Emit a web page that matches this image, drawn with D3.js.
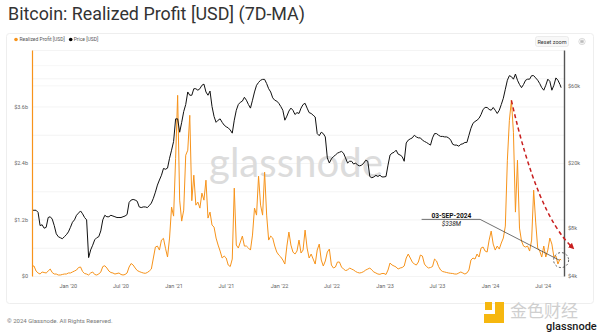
<!DOCTYPE html>
<html><head><meta charset="utf-8">
<script src="https://cdn.jsdelivr.net/npm/d3@7"></script>
<style>
body{margin:0;background:#fff;}
svg{display:block;font-family:Roboto,"Noto Sans",sans-serif;}
</style>
</head><body>
<svg id="c" width="600" height="332"></svg>
<script>
// ---------------- DATA ----------------
const startDate = "2019-08-30";   // weekly samples from here
const lastDate = "2024-09-03";    // final (partial-week) sample
// BTC price, thousands USD (weekly)
const priceK = [
10.2,10.2,10.2,9.9,8.2,8.3,7.9,8.0,9.2,9.3,9.0,8.2,7.3,7.0,6.9,6.8,7.0,7.2,
7.5,8.0,8.6,8.9,9.5,9.8,10.1,9.7,9.2,8.9,5.2,5.8,6.2,6.7,6.9,7.0,7.6,8.9,9.5,9.3,9.3,9.5,9.4,9.3,9.2,9.2,9.2,9.3,9.4,9.6,11.4,11.8,11.9,11.8,11.6,10.7,10.6,10.7,10.7,10.6,10.9,11.3,12.1,13.2,14.6,15.7,16.8,18.5,18.3,18.6,21.4,24.0,
27.2,37.5,37.5,31.0,35.7,41.6,46.0,55.0,52.5,52.5,57.6,57.6,56.4,57.6,60.5,61.5,55.0,52.5,55.7,44.7,38.8,35.7,36.8,37.5,35.7,34.3,33.5,33.0,32.0,30.6,36.8,42.4,46.0,47.5,48.3,51.0,48.9,46.0,43.7,48.9,55.0,60.5,63.0,65.0,65.8,65.8,62.0,57.6,55.0,50.6,48.9,48.3,46.8,
44.7,42.4,36.8,39.0,41.9,43.7,42.4,39.9,41.0,40.5,43.7,46.0,46.8,43.7,41.0,40.5,39.5,38.5,30.4,29.5,31.0,30.4,29.0,21.5,20.0,21.2,21.9,22.4,23.0,23.3,23.6,23.0,21.5,20.0,20.5,20.5,19.7,20.0,19.4,19.2,19.4,20.0,20.8,20.5,16.5,16.2,16.4,16.8,16.5,16.8,16.4,16.4,
16.5,19.4,22.4,23.0,23.3,24.0,22.7,22.4,21.9,20.5,26.6,27.7,28.2,28.6,29.7,29.0,28.6,28.6,27.7,27.2,26.8,26.3,25.8,28.6,30.4,30.4,29.7,29.2,29.2,29.0,29.0,28.6,27.7,26.1,25.8,25.8,25.4,26.1,26.3,26.8,26.8,29.7,32.8,35.2,36.1,36.8,37.8,39.9,42.9,44.1,44.1,42.9,
42.4,44.1,42.4,40.5,42.4,46.0,50.3,57.2,65.0,69.4,68.4,66.0,71.0,65.0,61.2,58.5,61.2,65.0,66.0,66.0,69.4,69.4,67.2,65.0,62.0,58.5,56.4,60.5,66.0,64.0,56.4,60.5,67.2,65.0,61.2,58.5
];
// Realized profit 7D-MA, millions USD (weekly)
const profitM = [
212,212,106,64,42,85,74,64,106,148,74,42,42,21,21,32,42,42,
64,64,85,106,127,180,191,95,53,42,21,64,85,32,21,42,85,201,218,170,106,74,64,42,53,64,32,21,32,64,191,265,233,170,117,95,78,64,57,74,106,148,382,615,636,551,763,799,587,403,806,1463,
1272,2500,3837,1611,1166,1399,2565,2671,3413,1600,2141,1505,1569,1442,1760,1611,2035,1230,1357,1081,1039,806,657,530,382,424,382,233,201,360,1866,657,594,721,848,636,636,594,551,869,1442,1293,2120,1505,1293,2205,1293,763,848,806,636,509,445,
403,339,254,636,933,657,509,466,530,763,488,551,975,594,382,466,360,254,551,678,339,212,318,509,572,233,170,191,297,297,191,148,117,127,170,148,127,95,74,64,74,95,127,148,170,127,85,64,42,36,53,53,
32,127,276,233,212,191,148,170,180,212,382,466,382,297,254,233,297,445,424,254,201,170,180,201,360,318,201,127,95,85,74,64,57,53,42,42,64,85,64,42,64,127,339,382,360,466,403,594,615,530,509,763,
954,678,551,636,572,700,806,1060,2459,3307,3731,3053,1357,2459,1018,742,636,615,636,530,763,1823,1145,594,530,403,636,403,551,806,678,403,424,254,360,338
];
const leftTicks = [0, 1200, 2400, 3600];
const leftTickLabels = ["$0", "$1.2b", "$2.4b", "$3.6b"];
const rightTicks = [4, 8, 20, 60];
const rightTickLabels = ["$4k", "$8k", "$20k", "$60k"];
const xTickDates = ["2020-01-01","2020-07-01","2021-01-01","2021-07-01","2022-01-01","2022-07-01","2023-01-01","2023-07-01","2024-01-01","2024-07-01"];
const xTickLabels = ["Jan '20","Jul '20","Jan '21","Jul '21","Jan '22","Jul '22","Jan '23","Jul '23","Jan '24","Jul '24"];
const annotText = "03-SEP-2024";
const annotValueText = "$338M";
const decayFrom = "2024-01-01"; // red arrow starts at the cycle peak after this date

// ---------------- SETUP ----------------
const parse = d3.utcParse("%Y-%m-%d");
const dates = d3.range(priceK.length - 1).map(i => d3.utcDay.offset(parse(startDate), 7 * i));
dates.push(parse(lastDate));
const priceData = priceK.map((v, i) => ({date: dates[i], v}));
const profitData = profitM.map((v, i) => ({date: dates[i], v}));

const ORANGE = "#f7931a";
const svg = d3.select("#c");
const L = 32, R = 564, T = 50, B = 276;

const x = d3.scaleUtc().domain([parse("2019-08-30"), parse("2024-09-13")]).range([L, R]);
const yL = d3.scaleLinear().domain([0, 4800]).range([B, T]);
const yR = d3.scaleLog().domain([4, 100]).range([B, T]);

// frame
svg.append("rect").attr("x", 6.5).attr("y", 33.5).attr("width", 587).attr("height", 270)
  .attr("rx", 3).attr("fill", "none").attr("stroke", "#eeeeee");

// title
const title = svg.append("text").attr("x", 8).attr("y", 19.5).attr("fill", "#333")
  .style("font-size", "17px").text("Bitcoin: Realized Profit [USD] (7D-MA)");
{ const w = title.node().getComputedTextLength(); title.style("font-size", (17 * 297 / w) + "px"); }

// legend
svg.append("circle").attr("cx", 16).attr("cy", 39.5).attr("r", 1.8).attr("fill", ORANGE);
svg.append("text").attr("x", 19.5).attr("y", 41.3).attr("fill", "#555").style("font-size", "5px").text("Realized Profit [USD]");
svg.append("circle").attr("cx", 70.7).attr("cy", 39.5).attr("r", 1.8).attr("fill", "#000");
svg.append("text").attr("x", 73.7).attr("y", 41.3).attr("fill", "#555").style("font-size", "5px").text("Price [USD]");

// reset zoom + menu icon
svg.append("rect").attr("x", 535.5).attr("y", 36.5).attr("width", 33).attr("height", 10).attr("rx", 2)
  .attr("fill", "#f8f8f8").attr("stroke", "#e2e2e2").attr("stroke-width", 0.6);
svg.append("text").attr("x", 552).attr("y", 43.5).attr("text-anchor", "middle").attr("fill", "#333")
  .style("font-size", "5.5px").text("Reset zoom");
svg.append("circle").attr("cx", 582).attr("cy", 41.5).attr("r", 3.2).attr("fill", "none").attr("stroke", "#bbb").attr("stroke-width", 0.5);
[-1.2, 0, 1.2].forEach(d => svg.append("line").attr("x1", 580.3).attr("x2", 583.7)
  .attr("y1", 41.5 + d).attr("y2", 41.5 + d).attr("stroke", "#777").attr("stroke-width", 0.5));

// gridlines
svg.append("g").selectAll("line").data(d3.range(0, 4801, 600)).join("line")
  .attr("x1", L).attr("x2", R).attr("y1", d => yL(d) + 0.5).attr("y2", d => yL(d) + 0.5)
  .attr("stroke", "#efefef").attr("stroke-width", 0.7);
svg.append("g").selectAll("line").data([60, 80]).join("line")
  .attr("x1", L).attr("x2", R).attr("y1", d => yR(d)).attr("y2", d => yR(d))
  .attr("stroke", "#f3f3f3").attr("stroke-width", 0.7);

// center watermark
const wm = svg.append("text").attr("x", 209).attr("y", 176.5).attr("fill", "#dcdcdc")
  .style("font-family", "Lato, 'Noto Sans', sans-serif").style("font-size", "40px").text("glassnode");
{ const w = wm.node().getComputedTextLength(); wm.style("font-size", (40 * 174 / w) + "px"); }

// lines
svg.append("path").datum(profitData).attr("fill", "none").attr("stroke", ORANGE)
  .attr("stroke-width", 1).attr("stroke-linejoin", "round")
  .attr("d", d3.line().x(d => x(d.date)).y(d => yL(d.v)));
svg.append("path").datum(priceData).attr("fill", "none").attr("stroke", "#111")
  .attr("stroke-width", 1).attr("stroke-linejoin", "round")
  .attr("d", d3.line().x(d => x(d.date)).y(d => yR(d.v)));

// axes
const axL = svg.append("g").attr("transform", `translate(${L},0)`)
  .call(d3.axisLeft(yL).tickValues(leftTicks).tickFormat((d, i) => leftTickLabels[i]).tickSize(0).tickSizeOuter(0).tickPadding(4));
axL.select(".domain").attr("stroke", ORANGE).attr("stroke-width", 1.2);
const axR = svg.append("g").attr("transform", `translate(${R},0)`)
  .call(d3.axisRight(yR).tickValues(rightTicks).tickFormat((d, i) => rightTickLabels[i]).tickSize(0).tickSizeOuter(0).tickPadding(4));
axR.select(".domain").attr("stroke", "#555").attr("stroke-width", 1.4);
const axB = svg.append("g").attr("transform", `translate(0,${B})`)
  .call(d3.axisBottom(x).tickValues(xTickDates.map(parse)).tickFormat((d, i) => xTickLabels[i]).tickSize(0).tickPadding(8));
axB.select(".domain").remove();
svg.selectAll(".tick text").attr("fill", "#666").style("font-size", "5.5px").style("font-family", "Roboto,'Noto Sans',sans-serif");

// annotation on last point
const last = profitData[profitData.length - 1];
const px = x(last.date), py = yL(last.v);
const lx0 = px - 139.5, lx1 = px - 81, ly = py - 40.7;
svg.append("path").attr("fill", "none").attr("stroke", "#333").attr("stroke-width", 0.7)
  .attr("d", `M${lx0},${ly}L${lx1},${ly}L${px - 2},${py}`);
svg.append("text").attr("x", (lx0 + lx1) / 2 + 0.5).attr("y", ly - 1.3).attr("text-anchor", "middle")
  .attr("fill", "#111").style("font-size", "6.6px").style("font-weight", "700").text(annotText);
svg.append("text").attr("x", (lx0 + lx1) / 2 + 0.5).attr("y", ly + 6.5).attr("text-anchor", "middle")
  .attr("fill", "#222").style("font-size", "6.4px").style("font-style", "italic").text(annotValueText);
svg.append("circle").attr("cx", px).attr("cy", py).attr("r", 7.5).attr("fill", "none")
  .attr("stroke", "#333").attr("stroke-width", 0.8).attr("stroke-dasharray", "2,2");

// red dashed decay arrow from the 2024 peak
const peak = profitData.filter(d => d.date >= parse(decayFrom)).reduce((a, b) => (b.v > a.v ? b : a));
const sx = x(peak.date), sy = yL(peak.v);
svg.append("defs").append("marker").attr("id", "ah").attr("viewBox", "0 0 10 10")
  .attr("refX", 5).attr("refY", 5).attr("markerWidth", 6).attr("markerHeight", 6)
  .attr("orient", "auto").attr("markerUnits", "userSpaceOnUse")
  .append("path").attr("d", "M0,0L10,5L0,10z").attr("fill", "#c81e1e");
svg.append("path").attr("fill", "none").attr("stroke", "#c81e1e").attr("stroke-width", 1.5)
  .attr("stroke-dasharray", "4,3").attr("marker-end", "url(#ah)")
  .attr("d", `M${sx},${sy}Q${px - 24},${py - 46} ${px + 11},${py - 13}`);

// footer
svg.append("text").attr("x", 7).attr("y", 323).attr("fill", "#777").style("font-size", "6px")
  .text("© 2024 Glassnode. All Rights Reserved.");
// bottom-right watermark
const wmg = svg.append("g");
wmg.append("rect").attr("x", 485).attr("y", 302).attr("width", 7).attr("height", 8).attr("fill", "#f6b70f");
wmg.append("path").attr("d", "M495,302h9v21h-20v-9h11z").attr("fill", "#f6b70f");
wmg.append("text").attr("x", 510).attr("y", 317).attr("fill", "#cfcfcf")
  .style("font-family", "'Noto Sans CJK SC',sans-serif").style("font-size", "17px").text("金色财经");
wmg.append("text").attr("x", 546).attr("y", 330).attr("fill", "#1a1a1a")
  .style("font-size", "11px").style("font-weight", "500").text("glassnode");
</script>
</body></html>
